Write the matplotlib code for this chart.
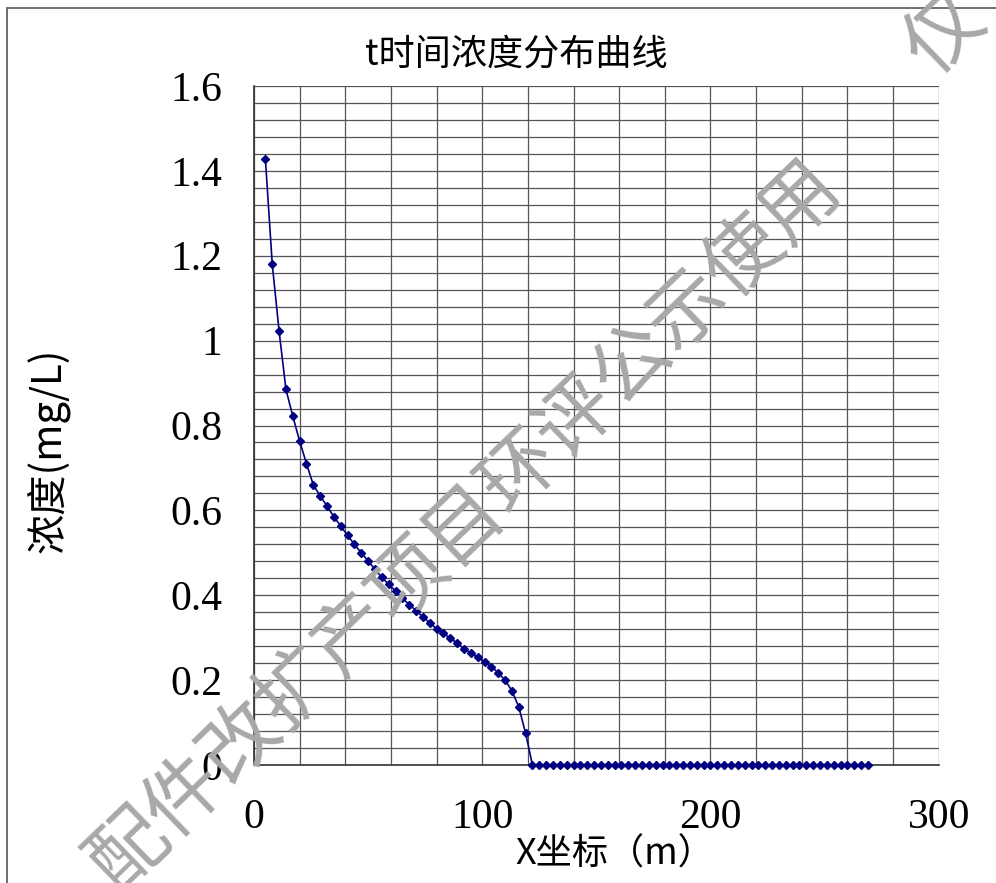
import matplotlib
matplotlib.use("Agg")
import matplotlib.pyplot as plt
import numpy as np
from matplotlib.ticker import MultipleLocator, FuncFormatter
from matplotlib.patches import Rectangle

plt.rcParams['font.family'] = ['Noto Sans CJK SC', 'DejaVu Sans']

# ---- data ----
x_start, x_step, n_points = 5, 3, 89
x_vals = [x_start + x_step * i for i in range(n_points)]
conc_nonzero = [1.427, 1.180, 1.022, 0.885, 0.822, 0.763, 0.710, 0.660, 0.634,
                0.610, 0.585, 0.563, 0.541, 0.520, 0.500, 0.481, 0.461, 0.442,
                0.426, 0.410, 0.393, 0.378, 0.364, 0.349, 0.335, 0.321, 0.310,
                0.299, 0.287, 0.274, 0.264, 0.254, 0.242, 0.232, 0.217, 0.200,
                0.175, 0.137, 0.075]
conc = conc_nonzero + [0.0] * (n_points - len(conc_nonzero))

title = "t时间浓度分布曲线"
xlabel = "X坐标（m）"
ylabel = "浓度(mg/L)"
watermark = "配件改扩产项目环评公示使用"
watermark2 = "仅"

W, H = 996, 883
fig = plt.figure(figsize=(W / 100, H / 100), dpi=100)

# outer frame
fig.patches.append(Rectangle((6.5 / W, -0.1), 2, (H - 8.5) / H + 0.1,
                             transform=fig.transFigure, fill=False,
                             edgecolor='#555555', linewidth=1.2))

ax = fig.add_axes([254 / W, 1 - 765 / H, (938.7 - 254) / W, (765 - 86) / H])
ax.set_xlim(0, 300)
ax.set_ylim(0, 1.6)
ax.xaxis.set_major_locator(MultipleLocator(100))
ax.xaxis.set_minor_locator(MultipleLocator(20))
ax.yaxis.set_major_locator(MultipleLocator(0.2))
ax.yaxis.set_minor_locator(MultipleLocator(0.04))
ax.grid(True, which='both', color='#555555', linewidth=0.9)
ax.set_axisbelow(True)
ax.tick_params(which='both', length=0)

def fmt(v, pos):
    s = f"{v:.1f}"
    if s.endswith(".0"):
        s = s[:-2]
    return s

ax.yaxis.set_major_formatter(FuncFormatter(fmt))
serif = ['Liberation Serif', 'DejaVu Serif']
for lab in ax.get_yticklabels() + ax.get_xticklabels():
    lab.set_fontfamily(serif)
    lab.set_fontsize(30)
ax.tick_params(axis='y', pad=23)
ax.tick_params(axis='x', pad=24)

for side in ['right', 'top']:
    ax.spines[side].set_visible(False)
for side in ['left', 'bottom']:
    ax.spines[side].set_color('#333333')
    ax.spines[side].set_linewidth(1.2)

ax.plot(x_vals, conc, color='#000080', linewidth=1.2, marker='D',
        markersize=4.5, markerfacecolor='#000080', markeredgecolor='#000080',
        zorder=5, clip_on=False)

fig.text(516 / W, 1 - 55 / H, title, ha='center', va='center', fontsize=26)
fig.text(615 / W, 1 - 855 / H, xlabel, ha='center', va='center', fontsize=26)
fig.text(48 / W, 1 - 450 / H, ylabel, ha='center', va='center', fontsize=29,
         rotation=90)

fig.text(465 / W, 1 - 525 / H, watermark, ha='center', va='center',
         fontsize=56, rotation=44, rotation_mode='anchor', color='#a8a8a8',
         zorder=3)
fig.text(945 / W, 1 - 35 / H, watermark2, ha='center', va='center',
         fontsize=56, rotation=44, rotation_mode='anchor', color='#a8a8a8',
         zorder=3)

fig.savefig("out.png", dpi=100)
